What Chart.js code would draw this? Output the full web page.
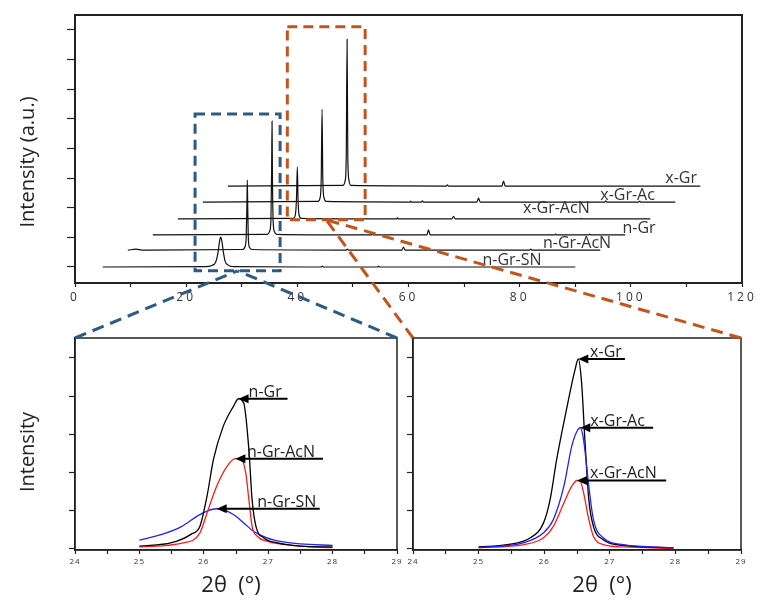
<!DOCTYPE html>
<html>
<head>
<meta charset="utf-8">
<script src="https://cdn.jsdelivr.net/npm/chart.js@4.4.1/dist/chart.umd.min.js"></script>
<style>
  html, body { margin: 0; padding: 0; background: #fff; }
  #wrap { position: relative; width: 764px; height: 610px; }
  #wrap canvas { position: absolute; left: 0; top: 0; }
</style>
</head>
<body>
<div id="wrap">
  <canvas id="topChart" width="764" height="610"></canvas>
  <canvas id="leftChart" width="764" height="610"></canvas>
  <canvas id="rightChart" width="764" height="610"></canvas>
</div>
<script>
// ---- top panel: full XRD patterns, bottom to top, stacked with offsets ----
const sampleNames = ['n-Gr-SN', 'n-Gr-AcN', 'n-Gr', 'x-Gr-AcN', 'x-Gr-Ac', 'x-Gr'];
const shiftTheta = [0, 4.5, 9, 13.5, 18, 22.5];
const shiftIntensity = [0, 0.57, 1.08, 1.62, 2.19, 2.73];

const snTheta = [5, 23.5, 24.6, 25.3, 25.7, 26.0, 26.2, 26.4, 26.7, 27.0, 27.5, 28.5, 44.3, 44.5, 44.7, 54.4, 54.6, 54.8, 90];
const snI     = [0, 0.01, 0.05, 0.16, 0.45, 0.85, 1.01, 0.9, 0.5, 0.2, 0.07, 0.01, 0, 0.03, 0, 0, 0.03, 0, 0];

const nAcnTheta = [5, 6.5, 7.5, 9, 25.6, 26.1, 26.3, 26.42, 26.5, 26.58, 26.7, 26.9, 27.4, 44.3, 44.5, 44.7, 54.3, 54.6, 54.9, 77.3, 77.5, 77.7, 90];
const nAcnI     = [0, 0.03, 0, 0, 0.02, 0.12, 0.45, 1.4, 2.36, 1.4, 0.35, 0.09, 0.02, 0, 0.03, 0, 0, 0.1, 0, 0, 0.03, 0, 0];

const nGrTheta = [5, 25.6, 26.0, 26.25, 26.38, 26.45, 26.52, 26.65, 26.9, 27.3, 42.4, 42.6, 42.8, 44.3, 44.5, 44.7, 54.3, 54.6, 54.9, 77.3, 77.5, 77.7, 83.4, 83.6, 83.8, 90];
const nGrI     = [0, 0.02, 0.12, 0.5, 2.2, 3.84, 2.0, 0.45, 0.1, 0.02, 0, 0.02, 0, 0, 0.04, 0, 0, 0.17, 0, 0, 0.03, 0, 0, 0.03, 0, 0];

const xAcnTheta = [5, 25.8, 26.15, 26.35, 26.5, 26.62, 26.8, 27.2, 44.3, 44.5, 44.7, 54.3, 54.6, 54.9, 77.3, 77.5, 77.7, 90];
const xAcnI     = [0, 0.02, 0.15, 0.7, 1.75, 0.7, 0.15, 0.02, 0, 0.04, 0, 0, 0.09, 0, 0, 0.02, 0, 0];

const xAcTheta = [5, 25.7, 26.1, 26.3, 26.45, 26.58, 26.8, 27.2, 42.3, 42.4, 42.5, 44.3, 44.5, 44.7, 54.3, 54.6, 54.9, 77.3, 77.5, 77.7, 83.4, 83.6, 83.8, 90];
const xAcI     = [0, 0.02, 0.15, 0.8, 3.13, 0.8, 0.15, 0.02, 0, 0.03, 0, 0, 0.04, 0, 0, 0.13, 0, 0, 0.04, 0, 0, 0.03, 0, 0];

const xGrTheta = [5, 25.7, 26.1, 26.3, 26.45, 26.58, 26.8, 27.2, 44.3, 44.5, 44.7, 54.3, 54.6, 54.9, 90];
const xGrI     = [0, 0.02, 0.18, 1.0, 4.95, 1.0, 0.18, 0.02, 0, 0.04, 0, 0, 0.17, 0, 0];

const topXTicks = [0, 20, 40, 60, 80, 100, 120];
const topYTicks = [0, 1, 2, 3, 4, 5, 6, 7, 8];

// ---- insets: (002) peak, 25-28 deg ----
const insetXTicks = [24, 25, 26, 27, 28, 29];
const insetYTicks = [0, 1, 2, 3, 4, 5];

const zNGrTheta = [25.0, 25.5, 25.8, 25.94, 26.05, 26.15, 26.3, 26.46, 26.54, 26.62, 26.7, 26.75, 26.81, 26.93, 27.13, 27.5, 28.0];
const zNGrI     = [0.07, 0.16, 0.38, 0.59, 1.38, 2.34, 3.2, 3.73, 3.93, 3.82, 2.6, 1.29, 0.59, 0.29, 0.16, 0.07, 0.05];

const zNAcnTheta = [25.0, 25.7, 25.94, 26.05, 26.2, 26.36, 26.49, 26.57, 26.65, 26.7, 26.75, 26.83, 26.98, 27.5, 28.0];
const zNAcnI     = [0.05, 0.16, 0.42, 0.94, 1.64, 2.16, 2.36, 2.36, 2.0, 1.29, 0.59, 0.33, 0.2, 0.07, 0.03];

const zSnTheta = [25.0, 25.35, 25.66, 25.91, 26.05, 26.2, 26.3, 26.46, 26.62, 26.77, 26.98, 27.24, 27.5, 28.0];
const zSnI     = [0.23, 0.38, 0.59, 0.87, 0.99, 1.05, 1.03, 0.9, 0.68, 0.46, 0.29, 0.18, 0.13, 0.09];

const zXGrTheta = [25.0, 25.43, 25.79, 25.99, 26.09, 26.19, 26.34, 26.47, 26.52, 26.57, 26.62, 26.68, 26.75, 26.9, 27.21, 27.97];
const zXGrI     = [0.05, 0.11, 0.29, 0.68, 1.29, 2.34, 3.65, 4.69, 4.97, 4.35, 2.86, 1.29, 0.59, 0.24, 0.09, 0.03];

const zXAcTheta = [25.0, 25.69, 25.99, 26.14, 26.3, 26.42, 26.5, 26.55, 26.6, 26.68, 26.75, 26.9, 27.21, 27.97];
const zXAcI     = [0.03, 0.16, 0.42, 0.77, 1.64, 2.69, 3.08, 3.17, 2.86, 1.64, 0.77, 0.29, 0.11, 0.03];

const zXAcnTheta = [25.0, 25.69, 25.99, 26.14, 26.3, 26.42, 26.5, 26.55, 26.6, 26.68, 26.75, 26.9, 27.21, 27.97];
const zXAcnI     = [0.03, 0.11, 0.29, 0.59, 1.2, 1.64, 1.79, 1.77, 1.47, 0.77, 0.33, 0.11, 0.05, 0.01];

const BLUE_BOX = '#2F5A82';
const ORANGE_BOX = '#C4531C';
const FONT = "'Open Sans', 'Noto Sans', sans-serif";

function pts(xs, ys, dx, dy) {
    return xs.map((t, j) => ({ x: t + (dx || 0), y: ys[j] + (dy || 0) }));
}

// frame box, letter spacing for tick labels, free titles
const framePlugin = {
    id: 'frame',
    beforeDraw(chart, args, opts) {
        chart.ctx.letterSpacing = opts.spacing || '0px';
    },
    beforeDatasetsDraw(chart) {
        chart.ctx.letterSpacing = '0px';
    },
    afterDatasetsDraw(chart, args, opts) {
        const ctx = chart.ctx;
        const a = chart.chartArea;
        ctx.save();
        ctx.strokeStyle = '#222';
        ctx.lineWidth = opts.width;
        ctx.strokeRect(a.left, a.top, a.right - a.left, a.bottom - a.top);
        ctx.restore();
    },
    afterDraw(chart, args, opts) {
        const ctx = chart.ctx;
        const a = chart.chartArea;
        (opts.titles || []).forEach(t => {
            ctx.save();
            ctx.font = t.size + 'px ' + FONT;
            ctx.fillStyle = '#222';
            ctx.textAlign = 'center';
            ctx.textBaseline = 'middle';
            if (t.side === 'left') {
                ctx.translate(a.left + t.dx, (a.top + a.bottom) / 2 + t.dy);
                ctx.rotate(-Math.PI / 2);
            } else {
                ctx.translate((a.left + a.right) / 2 + t.dx, a.bottom + t.dy);
            }
            ctx.fillText(t.text, 0, 0);
            ctx.restore();
        });
    }
};

// series names sitting on each pattern's baseline + dashed zoom boxes
const topMarks = {
    id: 'topMarks',
    afterDatasetsDraw(chart, args, opts) {
        const ctx = chart.ctx;
        const xs = chart.scales.x, ys = chart.scales.y;
        ctx.save();
        ctx.font = '16px ' + FONT;
        ctx.fillStyle = '#333';
        ctx.textBaseline = 'alphabetic';
        opts.labels.forEach((l, i) => {
            ctx.fillText(sampleNames[i], xs.getPixelForValue(l.x), ys.getPixelForValue(shiftIntensity[i]) - l.lift);
        });
        ctx.lineWidth = 3;
        ctx.setLineDash([10, 6]);
        opts.boxes.forEach(b => {
            const x0 = xs.getPixelForValue(b.x0), x1 = xs.getPixelForValue(b.x1);
            const y0 = ys.getPixelForValue(b.y0), y1 = ys.getPixelForValue(b.y1);
            ctx.strokeStyle = b.color;
            ctx.strokeRect(x0, y1, x1 - x0, y0 - y1);
        });
        ctx.restore();
    }
};

// arrow + name pointing at each peak top in an inset
const peakLabels = {
    id: 'peakLabels',
    afterDatasetsDraw(chart, args, opts) {
        const ctx = chart.ctx;
        const xs = chart.scales.x, ys = chart.scales.y;
        opts.items.forEach(it => {
            const data = chart.data.datasets[it.ds].data;
            const top = data.reduce((m, p) => (p.y > m.y ? p : m));
            const tx = xs.getPixelForValue(top.x), ty = ys.getPixelForValue(top.y);
            const ex = xs.getPixelForValue(it.endX);
            ctx.save();
            ctx.strokeStyle = '#000';
            ctx.fillStyle = '#000';
            ctx.lineWidth = 2;
            ctx.beginPath();
            ctx.moveTo(tx + 6, ty);
            ctx.lineTo(ex, ty);
            ctx.stroke();
            ctx.beginPath();
            ctx.moveTo(tx, ty);
            ctx.lineTo(tx + 10, ty - 4.5);
            ctx.lineTo(tx + 10, ty + 4.5);
            ctx.closePath();
            ctx.fill();
            ctx.font = '16px ' + FONT;
            ctx.fillStyle = '#222';
            ctx.fillText(it.text, Math.max(tx + 10, xs.getPixelForValue(it.textX)), ty - 2);
            ctx.restore();
        });
    }
};

// dashed lines from each zoom box down to its inset (drawn on the top-most canvas)
const connectPlugin = {
    id: 'connect',
    afterDraw(chart) {
        const ctx = chart.ctx;
        const boxes = topChart.options.plugins.topMarks.boxes;
        const xs = topChart.scales.x, ys = topChart.scales.y;
        [leftChart, chart].forEach((inset, i) => {
            const b = boxes[i];
            const ax = xs.getPixelForValue((b.x0 + b.x1) / 2);
            const ay = ys.getPixelForValue(b.y0);
            const a = inset.chartArea;
            ctx.save();
            ctx.strokeStyle = b.color;
            ctx.lineWidth = 3;
            ctx.setLineDash([12, 7]);
            [a.left, a.right].forEach(cx => {
                ctx.beginPath();
                ctx.moveTo(cx, a.top);
                ctx.lineTo(ax, ay);
                ctx.stroke();
            });
            ctx.restore();
        });
    }
};

function xAxis(min, max, step, h, labelSize, shown, bw) {
    return {
        type: 'linear', min: min, max: max,
        afterFit: s => { s.height = h; },
        border: { color: '#222', width: bw },
        grid: { drawOnChartArea: false, tickLength: 4, color: '#222', tickWidth: 1.2 },
        ticks: {
            stepSize: step, autoSkip: false, maxRotation: 0, padding: 3,
            color: '#333', font: { family: FONT, size: labelSize },
            callback: v => (shown.includes(v) ? String(v) : '')
        }
    };
}

function yAxis(min, max, w, tickVals, tl, bw) {
    return {
        type: 'linear', min: min, max: max,
        afterFit: s => { s.width = w; },
        afterBuildTicks: s => { s.ticks = tickVals.map(v => ({ value: v })); },
        border: { color: '#222', width: bw },
        grid: { drawOnChartArea: false, tickLength: tl, color: '#222', tickWidth: 1.2 },
        ticks: { display: false }
    };
}

const topThetas = [snTheta, nAcnTheta, nGrTheta, xAcnTheta, xAcTheta, xGrTheta];
const topIs = [snI, nAcnI, nGrI, xAcnI, xAcI, xGrI];

const topChart = new Chart(document.getElementById('topChart').getContext('2d'), {
    type: 'line',
    data: {
        datasets: sampleNames.map((name, i) => ({
            label: name,
            data: pts(topThetas[i], topIs[i], shiftTheta[i], shiftIntensity[i]),
            borderColor: '#111',
            borderWidth: 1.2,
            pointRadius: 0,
            cubicInterpolationMode: 'monotone'
        }))
    },
    options: {
        responsive: false, animation: false, events: [],
        layout: { padding: { left: 0, right: 22, top: 15, bottom: 300 } },
        scales: {
            x: xAxis(0, 120, 10, 27, 12, topXTicks, 2),
            y: yAxis(-0.54, 8.5, 75, topYTicks, 8, 2)
        },
        plugins: {
            legend: { display: false },
            tooltip: { enabled: false },
            frame: {
                width: 2, spacing: '3px',
                titles: [{ text: 'Intensity (a.u.)', side: 'left', dx: -47, dy: 13, size: 20 }]
            },
            topMarks: {
                labels: [
                    { x: 73.3, lift: 2 }, { x: 84.2, lift: 2 }, { x: 98.5, lift: 2 },
                    { x: 80.6, lift: 6 }, { x: 94.5, lift: 2 }, { x: 106.2, lift: 3 }
                ],
                boxes: [
                    { x0: 21.6, x1: 36.9, y0: -0.13, y1: 5.16, color: BLUE_BOX },
                    { x0: 38.2, x1: 52.2, y0: 1.59, y1: 8.1, color: ORANGE_BOX }
                ]
            }
        }
    },
    plugins: [framePlugin, topMarks]
});

function insetChart(id, sets, pad, yw, titles, labels, extra) {
    return new Chart(document.getElementById(id).getContext('2d'), {
        type: 'line',
        data: {
            datasets: sets.map(s => ({
                label: s.label,
                data: s.data,
                borderColor: s.color,
                borderWidth: 1.3,
                pointRadius: 0,
                cubicInterpolationMode: 'monotone'
            }))
        },
        options: {
            responsive: false, animation: false, events: [],
            layout: { padding: pad },
            scales: {
                x: xAxis(24, 29, 0.5, 20, 8, insetXTicks, 1.5),
                y: yAxis(-0.03, 5.52, yw, insetYTicks, 6, 1.5)
            },
            plugins: {
                legend: { display: false },
                tooltip: { enabled: false },
                frame: { width: 1.5, spacing: '1px', titles: titles },
                peakLabels: { items: labels }
            }
        },
        plugins: [framePlugin, peakLabels].concat(extra || [])
    });
}

const leftChart = insetChart('leftChart', [
    { label: 'n-Gr', data: pts(zNGrTheta, zNGrI), color: '#000000' },
    { label: 'n-Gr-AcN', data: pts(zNAcnTheta, zNAcnI), color: '#FF1A1A' },
    { label: 'n-Gr-SN', data: pts(zSnTheta, zSnI), color: '#2020FF' }
], { left: 0, right: 367, top: 338, bottom: 40 }, 75, [
    { text: 'Intensity', side: 'left', dx: -47, dy: 8, size: 20 },
    { text: '2θ  (°)', side: 'bottom', dx: -5, dy: 36, size: 22 }
], [
    { ds: 0, text: 'n-Gr', endX: 27.3, textX: 26.69 },
    { ds: 1, text: 'n-Gr-AcN', endX: 27.85, textX: 26.67 },
    { ds: 2, text: 'n-Gr-SN', endX: 27.8, textX: 26.83 }
]);

const rightChart = insetChart('rightChart', [
    { label: 'x-Gr-Ac', data: pts(zXAcTheta, zXAcI), color: '#2020FF' },
    { label: 'x-Gr', data: pts(zXGrTheta, zXGrI), color: '#000000' },
    { label: 'x-Gr-AcN', data: pts(zXAcnTheta, zXAcnI), color: '#FF1A1A' }
], { left: 393, right: 23, top: 338, bottom: 40 }, 20, [
    { text: '2θ  (°)', side: 'bottom', dx: 25, dy: 36, size: 22 }
], [
    { ds: 1, text: 'x-Gr', endX: 27.23, textX: 26.7 },
    { ds: 0, text: 'x-Gr-Ac', endX: 27.66, textX: 26.7 },
    { ds: 2, text: 'x-Gr-AcN', endX: 27.86, textX: 26.7 }
], [connectPlugin]);
</script>
</body>
</html>
